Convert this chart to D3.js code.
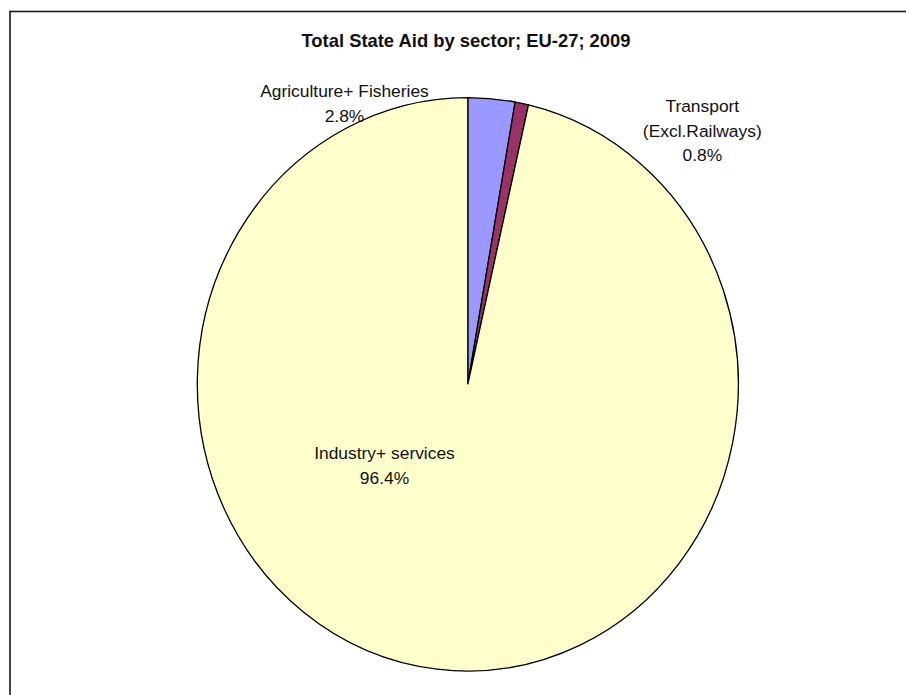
<!DOCTYPE html>
<html>
<head>
<meta charset="utf-8">
<script src="https://cdn.jsdelivr.net/npm/d3@7"></script>
<style>
  html, body { margin: 0; padding: 0; background: #fff; }
  svg { display: block; }
  text { font-family: "Liberation Sans", Arial, sans-serif; fill: #111; }
</style>
</head>
<body>
<svg id="chart" width="906" height="695"></svg>
<script>
// Sectors, shares (%) and fills
const categories = ["Agriculture+ Fisheries", "Transport (Excl.Railways)", "Industry+ services"];
const labelLines = [["Agriculture+ Fisheries"], ["Transport", "(Excl.Railways)"], ["Industry+ services"]];
const values = [2.8, 0.8, 96.4];
const colors = ["#9999FF", "#993366", "#FFFFCC"];
const title = "Total State Aid by sector; EU-27; 2009";

// Layout
const W = 906, H = 695;
const cx = 467.8, cy = 384.3, rx = 270.5, ry = 286.7;
// label anchor points (centre x, first baseline y)
const labelPos = [[344.5, 97.3], [702.3, 112.3], [384.5, 459.3]];
const lineGap = 24.2;

const svg = d3.select("#chart");

// Frame
svg.append("rect")
  .attr("x", 10).attr("y", 11.5)
  .attr("width", 1000).attr("height", 1000)
  .attr("fill", "none").attr("stroke", "#1a1a1a").attr("stroke-width", 1.6);

// Title
svg.append("text")
  .attr("x", 466).attr("y", 47)
  .attr("text-anchor", "middle")
  .style("font-size", "18.4px").style("font-weight", "bold")
  .text(title);

// Pie (drawn on a unit circle of radius rx, stretched vertically)
const pie = d3.pie().sort(null).value(d => d)(values);
const arc = d3.arc().innerRadius(0).outerRadius(rx);

svg.append("g")
  .attr("transform", `translate(${cx},${cy}) scale(1,${ry / rx})`)
  .selectAll("path")
  .data(pie)
  .join("path")
  .attr("d", arc)
  .attr("fill", (d, i) => colors[i])
  .attr("stroke", "#000")
  .attr("stroke-width", 1.3)
  .attr("vector-effect", "non-scaling-stroke");

// Labels
const fmt = d3.format(".1f");
const lg = svg.append("g");
values.forEach((v, i) => {
  const lines = labelLines[i].concat([fmt(v) + "%"]);
  const t = lg.append("text")
    .attr("text-anchor", "middle")
    .style("font-size", "17.4px");
  lines.forEach((s, k) => {
    t.append("tspan")
      .attr("x", labelPos[i][0])
      .attr("y", labelPos[i][1] + k * lineGap)
      .text(s);
  });
});
</script>
</body>
</html>
